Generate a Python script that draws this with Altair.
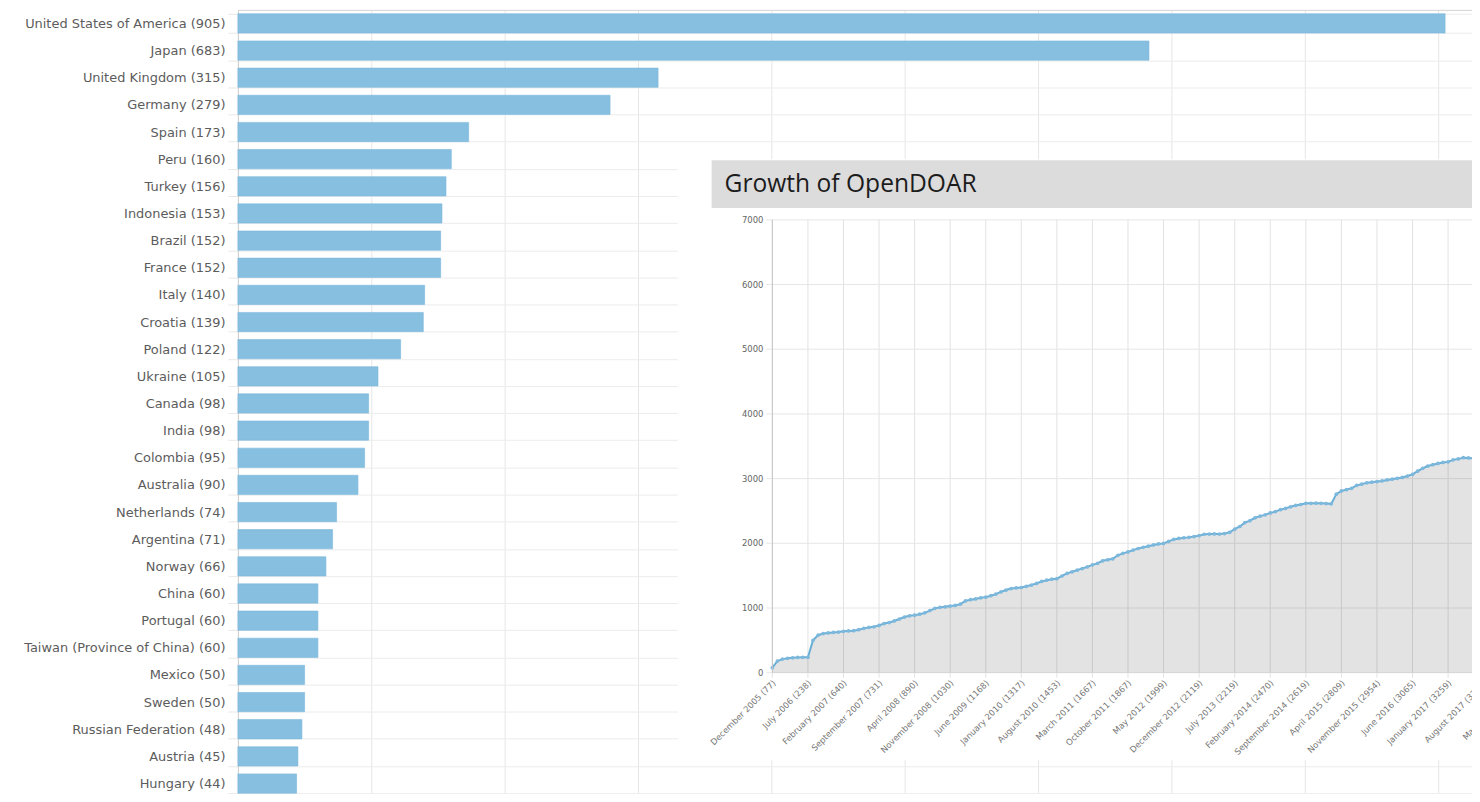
import altair as alt
import pandas as pd

# ---------------- data ----------------
countries = ["United States of America", "Japan", "United Kingdom", "Germany", "Spain",
             "Peru", "Turkey", "Indonesia", "Brazil", "France", "Italy", "Croatia",
             "Poland", "Ukraine", "Canada", "India", "Colombia", "Australia",
             "Netherlands", "Argentina", "Norway", "China", "Portugal",
             "Taiwan (Province of China)", "Mexico", "Sweden", "Russian Federation",
             "Austria", "Hungary"]
counts = [905, 683, 315, 279, 173, 160, 156, 153, 152, 152, 140, 139, 122, 105, 98, 98,
          95, 90, 74, 71, 66, 60, 60, 60, 50, 50, 48, 45, 44]

# monthly cumulative number of repositories, from December 2005
growth = [77, 180, 210, 222, 230, 236, 238, 238,
          500, 580, 605, 615, 622, 628, 640,
          645, 650, 665, 685, 700, 710, 731,
          760, 775, 800, 830, 860, 880, 890,
          905, 925, 960, 995, 1010, 1018, 1030,
          1040, 1060, 1110, 1128, 1140, 1158, 1168,
          1190, 1215, 1250, 1278, 1300, 1310, 1317,
          1335, 1355, 1380, 1410, 1430, 1445, 1453,
          1495, 1535, 1560, 1585, 1610, 1635, 1667,
          1690, 1730, 1745, 1760, 1815, 1845, 1867,
          1895, 1920, 1938, 1955, 1975, 1990, 1999,
          2030, 2060, 2075, 2085, 2092, 2105, 2119,
          2140, 2143, 2145, 2143, 2150, 2170, 2219,
          2260, 2320, 2350, 2395, 2420, 2440, 2470,
          2490, 2520, 2540, 2565, 2585, 2600, 2619,
          2618, 2620, 2618, 2615, 2610, 2760, 2809,
          2830, 2851, 2895, 2915, 2935, 2945, 2954,
          2965, 2980, 2992, 3005, 3018, 3040, 3065,
          3115, 3160, 3195, 3215, 3235, 3250, 3259,
          3290, 3305, 3323, 3320, 3315, 3320, 3330,
          3335]

tick_labels = ["December 2005 (77)", "July 2006 (238)", "February 2007 (640)",
               "September 2007 (731)", "April 2008 (890)", "November 2008 (1030)",
               "June 2009 (1168)", "January 2010 (1317)", "August 2010 (1453)",
               "March 2011 (1667)", "October 2011 (1867)", "May 2012 (1999)",
               "December 2012 (2119)", "July 2013 (2219)", "February 2014 (2470)",
               "September 2014 (2619)", "April 2015 (2809)", "November 2015 (2954)",
               "June 2016 (3065)", "January 2017 (3259)", "August 2017 (3330)",
               "March 2018 (3400)"]
tick_step = 7
tick_months = [i * tick_step for i in range(len(tick_labels))]
y_ticks = [0, 1000, 2000, 3000, 4000, 5000, 6000, 7000]
bar_grid = [0, 100, 200, 300, 400, 500, 600, 700, 800, 900, 1000]

labels = [f"{c} ({n})" for c, n in zip(countries, counts)]
bar_df = pd.DataFrame({"label": labels, "count": counts})
growth_df = pd.DataFrame({"month": list(range(len(growth))), "repos": growth})
tick_df = pd.DataFrame({"month": tick_months, "label": tick_labels})
ytick_df = pd.DataFrame({"repos": y_ticks})
one = pd.DataFrame({"k": [0]})

# ---------------- layout ----------------
W, H = 1240, 786
FONT = "DejaVu Sans"
PX_PER_MONTH = 5.105
X0_INSET = 537          # inset y-axis position inside the plot
Y0_INSET, Y7K_INSET = 666, 211

# ---------------- bar chart ----------------
bars = alt.Chart(bar_df).mark_bar(color="#86bfe0", stroke="#7cb8dc", strokeWidth=0.6).encode(
    y=alt.Y("label:N", sort=labels,
            scale=alt.Scale(range=[0, 791], paddingInner=0.29, paddingOuter=0.145),
            axis=alt.Axis(title=None, orient="left", domainColor="#cfcfcf", tickBand="extent",
                          tickColor="#e8e8e8", tickSize=10, labelPadding=3, grid=True,
                          gridColor="#ececec", labelFont=FONT, labelFontSize=13,
                          labelColor="#5c5c5c", labelLimit=400)),
    x=alt.X("count:Q", scale=alt.Scale(domain=[0, 1000], range=[0, 1340.3], nice=False),
            axis=alt.Axis(orient="top", title=None, labels=False, ticks=False,
                          domainColor="#d3d3d3", values=bar_grid, grid=True,
                          gridColor="#e6e6e6")),
)

# ---------------- inset ----------------
xs = alt.Scale(domain=[0, tick_months[-1]],
               range=[X0_INSET, X0_INSET + tick_months[-1] * PX_PER_MONTH], nice=False, zero=False)
ys = alt.Scale(domain=[0, 7000], range=[Y0_INSET, Y7K_INSET], nice=False)

panel = alt.Chart(one).mark_rect(color="white").encode(
    x=alt.value(442), x2=alt.value(W + 10), y=alt.value(150), y2=alt.value(754))
band = alt.Chart(one).mark_rect(color="#dcdcdc").encode(
    x=alt.value(476), x2=alt.value(W + 10), y=alt.value(151), y2=alt.value(199))
title = alt.Chart(one).mark_text(text="Growth of OpenDOAR", align="left", baseline="alphabetic",
                                 font="Open Sans", fontSize=24.7, color="#1c1c1c").encode(
    x=alt.value(489), y=alt.value(183.5))

vgrid = alt.Chart(tick_df).mark_rule(color="#e2e2e2", y2Offset=5).encode(
    x=alt.X("month:Q", scale=xs, axis=None),
    y=alt.YDatum(7000, type="quantitative", scale=ys, axis=None), y2=alt.datum(0))
hgrid = alt.Chart(ytick_df).mark_rule(color="#e6e6e6", xOffset=-6).encode(
    y=alt.Y("repos:Q", scale=ys, axis=None),
    x=alt.XDatum(0, type="quantitative", scale=xs, axis=None), x2=alt.datum(tick_months[-1]))

area = alt.Chart(growth_df).mark_area(color="#000000", opacity=0.11).encode(
    x=alt.X("month:Q", scale=xs, axis=None),
    y=alt.Y("repos:Q", scale=ys, axis=None))
line = alt.Chart(growth_df).mark_line(color="#6aaed6", strokeWidth=2).encode(
    x=alt.X("month:Q", scale=xs, axis=None), y=alt.Y("repos:Q", scale=ys, axis=None))
pts = alt.Chart(growth_df).mark_circle(size=14, color="#7db8dd", opacity=1).encode(
    x=alt.X("month:Q", scale=xs, axis=None), y=alt.Y("repos:Q", scale=ys, axis=None))

ydom = alt.Chart(one).mark_rule(color="#c4c4c4").encode(
    x=alt.XDatum(0, type="quantitative", scale=xs, axis=None),
    y=alt.YDatum(0, type="quantitative", scale=ys, axis=None), y2=alt.datum(7000))

xlab = alt.Chart(tick_df).mark_text(angle=315, align="right", baseline="top", font=FONT,
                                    fontSize=8.5, color="#767676", xOffset=-1, yOffset=6).encode(
    x=alt.X("month:Q", scale=xs, axis=None),
    y=alt.YDatum(0, type="quantitative", scale=ys, axis=None),
    text="label:N")
ylab = alt.Chart(ytick_df).mark_text(align="right", baseline="middle", font=FONT, fontSize=8.5,
                                     color="#666666", xOffset=-9).encode(
    y=alt.Y("repos:Q", scale=ys, axis=None),
    x=alt.XDatum(0, type="quantitative", scale=xs, axis=None),
    text=alt.Text("repos:Q", format="d"))

inset = alt.layer(panel, band, title, vgrid, hgrid, area, line, pts, ydom, xlab, ylab)

chart = alt.layer(bars, inset).resolve_scale(
    x="independent", y="independent"
).properties(
    width=W, height=H,
    padding={"left": 231, "top": 0, "right": 0, "bottom": 0},
    autosize=alt.AutoSizeParams(type="none"),
).configure_view(stroke=None)

chart.save("out.html", embed_options={"renderer": "svg", "actions": False})
